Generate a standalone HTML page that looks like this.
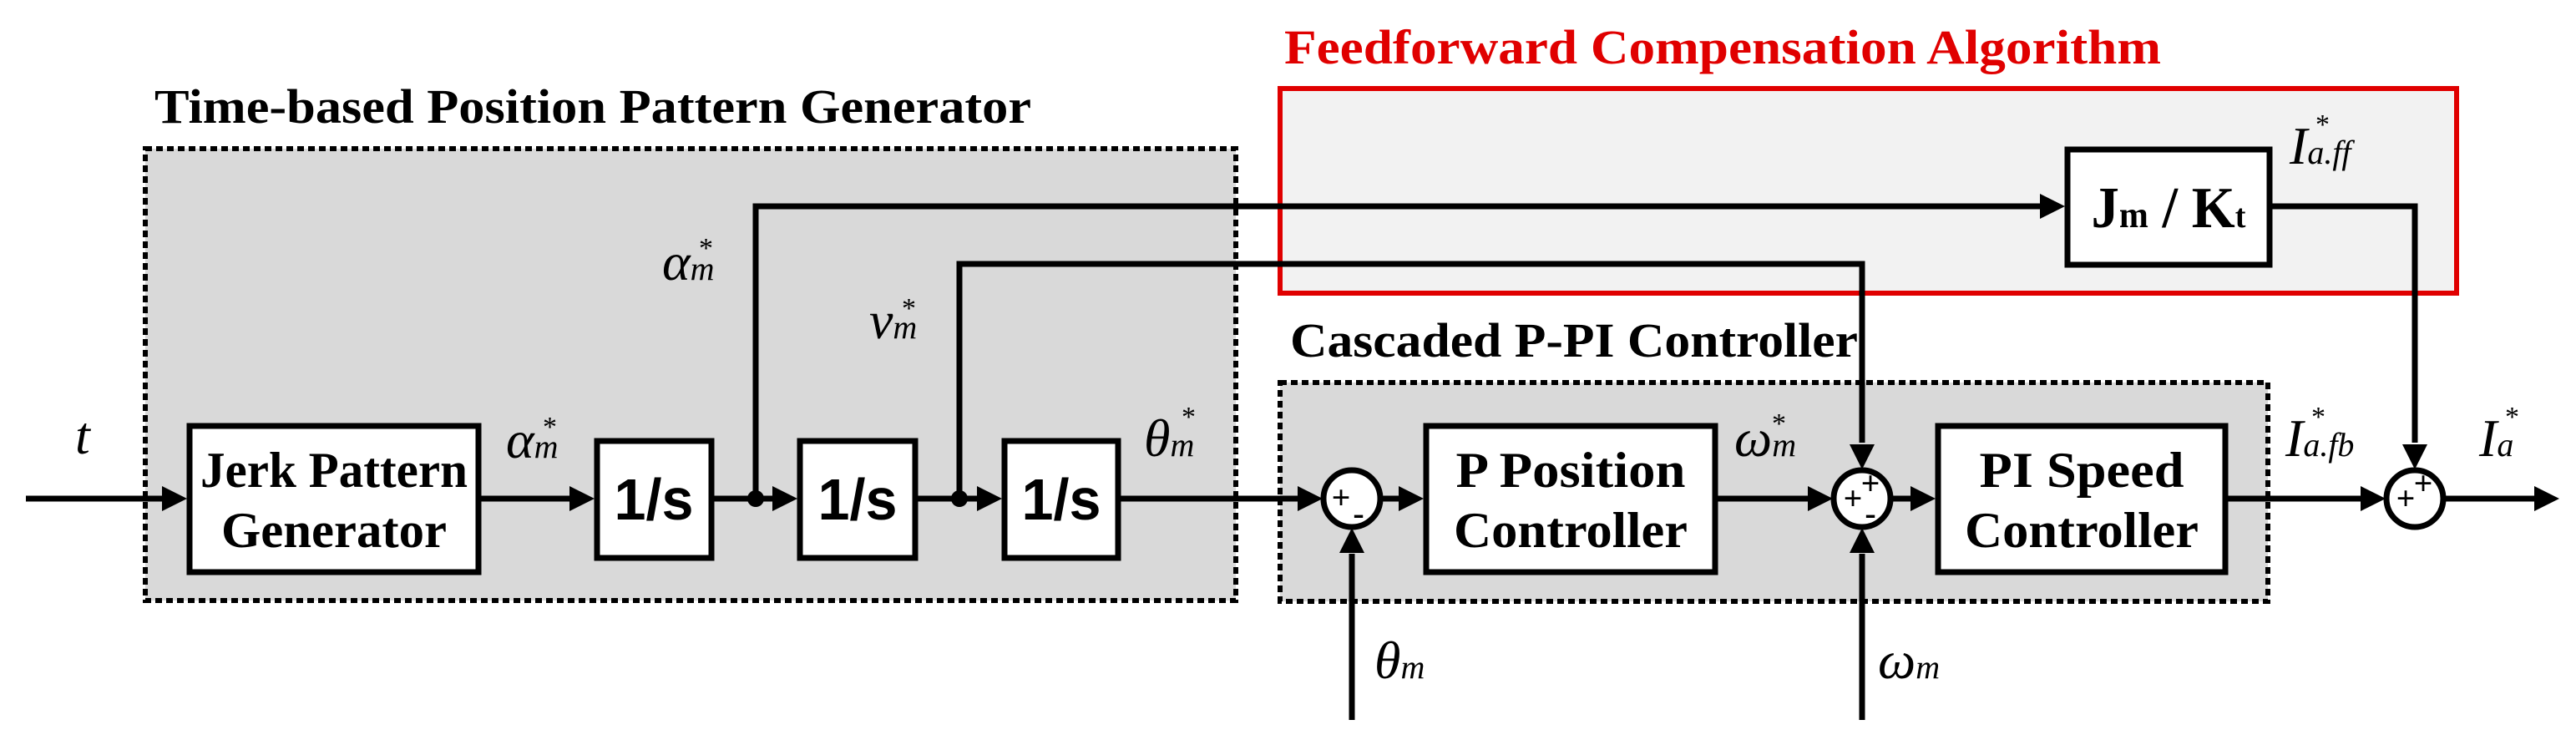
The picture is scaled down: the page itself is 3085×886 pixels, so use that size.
<!DOCTYPE html>
<html><head><meta charset="utf-8"><style>
html,body{margin:0;padding:0;background:#fff;}
svg{display:block;}
.t{font-family:"Liberation Serif",serif;font-weight:bold;}
.m{font-family:"Liberation Serif",serif;font-style:italic;}
</style></head><body>
<svg width="3085" height="886" viewBox="0 0 3085 886" xmlns="http://www.w3.org/2000/svg">
<!-- group boxes -->
<rect x="174" y="178" width="1306" height="541" fill="#d9d9d9" stroke="#000" stroke-width="6" stroke-dasharray="8 5"/>
<rect x="1533" y="106" width="1409" height="245" fill="#f2f2f2" stroke="#e00000" stroke-width="6"/>
<rect x="1533" y="458" width="1183" height="262" fill="#d9d9d9" stroke="#000" stroke-width="6" stroke-dasharray="8 5"/>
<!-- titles -->
<text x="185" y="147" class="t" font-size="58" textLength="1050" lengthAdjust="spacingAndGlyphs">Time-based Position Pattern Generator</text>
<text x="1538" y="76" class="t" font-size="58" fill="#e00000" textLength="1050" lengthAdjust="spacingAndGlyphs">Feedforward Compensation Algorithm</text>
<text x="1545" y="427" class="t" font-size="58" textLength="680" lengthAdjust="spacingAndGlyphs">Cascaded P-PI Controller</text>
<!-- lines -->
<g stroke="#000" stroke-width="7" fill="none">
<line x1="31" y1="597" x2="196" y2="597"/>
<line x1="573" y1="597" x2="684" y2="597"/>
<line x1="852" y1="597" x2="927" y2="597"/>
<line x1="1096" y1="597" x2="1172" y2="597"/>
<line x1="1339" y1="597" x2="1556" y2="597"/>
<line x1="1655" y1="597" x2="1677" y2="597"/>
<line x1="2054" y1="597" x2="2166" y2="597"/>
<line x1="2266" y1="597" x2="2290" y2="597"/>
<line x1="2665" y1="597" x2="2828" y2="597"/>
<line x1="2928" y1="597" x2="3035" y2="597"/>
<polyline points="905,597 905,247 2443,247"/>
<polyline points="1149,597 1149,316 2230,316 2230,530"/>
<polyline points="2718,247 2892,247 2892,530"/>
<line x1="1619" y1="862" x2="1619" y2="663"/>
<line x1="2230" y1="862" x2="2230" y2="663"/>
</g>
<!-- arrowheads -->
<g fill="#000">
<polygon points="224,597 194,582 194,612"/>
<polygon points="712,597 682,582 682,612"/>
<polygon points="955,597 925,582 925,612"/>
<polygon points="1200,597 1170,582 1170,612"/>
<polygon points="1584,597 1554,582 1554,612"/>
<polygon points="1705,597 1675,582 1675,612"/>
<polygon points="2195,597 2165,582 2165,612"/>
<polygon points="2318,597 2288,582 2288,612"/>
<polygon points="2857,597 2827,582 2827,612"/>
<polygon points="3065,597 3035,582 3035,612"/>
<polygon points="2473,247 2443,232 2443,262"/>
<polygon points="2230,562 2215,532 2245,532"/>
<polygon points="2892,562 2877,532 2907,532"/>
<polygon points="1619,632 1604,662 1634,662"/>
<polygon points="2230,632 2215,662 2245,662"/>
<circle cx="905" cy="597" r="10"/>
<circle cx="1149" cy="597" r="10"/>
</g>
<!-- blocks -->
<g stroke="#000" stroke-width="7" fill="#fff">
<rect x="227" y="510" width="346" height="175"/>
<rect x="715" y="528" width="137" height="140"/>
<rect x="958" y="528" width="138" height="140"/>
<rect x="1203" y="528" width="136" height="140"/>
<rect x="2476" y="179" width="242" height="138"/>
<rect x="1708" y="510" width="346" height="175"/>
<rect x="2321" y="510" width="344" height="175"/>
<circle cx="1619" cy="597" r="34"/>
<circle cx="2230" cy="597" r="34"/>
<circle cx="2892" cy="597" r="34"/>
</g>
<!-- block text -->
<g class="t" font-size="60" text-anchor="middle" font-weight="bold">
<text x="400" y="583" textLength="320" lengthAdjust="spacingAndGlyphs">Jerk Pattern</text>
<text x="400" y="655" textLength="270" lengthAdjust="spacingAndGlyphs">Generator</text>
<text x="783" y="622" font-size="70" font-family="Liberation Sans" textLength="95" lengthAdjust="spacingAndGlyphs">1/s</text>
<text x="1027" y="622" font-size="70" font-family="Liberation Sans" textLength="95" lengthAdjust="spacingAndGlyphs">1/s</text>
<text x="1271" y="622" font-size="70" font-family="Liberation Sans" textLength="95" lengthAdjust="spacingAndGlyphs">1/s</text>
<text x="1881" y="583" textLength="275" lengthAdjust="spacingAndGlyphs">P Position</text>
<text x="1881" y="655" textLength="280" lengthAdjust="spacingAndGlyphs">Controller</text>
<text x="2493" y="583" textLength="245" lengthAdjust="spacingAndGlyphs">PI Speed</text>
<text x="2493" y="655" textLength="280" lengthAdjust="spacingAndGlyphs">Controller</text>
<text x="2597" y="272" font-size="70" textLength="185" lengthAdjust="spacingAndGlyphs">J<tspan font-size="44">m</tspan> / K<tspan font-size="40">t</tspan></text>
</g>
<!-- signs -->
<g class="t" font-size="40" text-anchor="middle">
<text x="1606" y="609">+</text><text x="1627" y="628">-</text>
<text x="2240" y="592">+</text><text x="2219" y="610">+</text><text x="2240" y="628">-</text>
<text x="2902" y="592">+</text><text x="2881" y="610">+</text>
</g>
<!-- math labels -->
<g class="m" font-size="64">
<text x="90" y="543">t</text>
<text x="606" y="548">α<tspan font-size="40">m</tspan></text><text x="650" y="522" font-size="34" font-style="normal">*</text>
<text x="793" y="335">α<tspan font-size="40">m</tspan></text><text x="837" y="308" font-size="34" font-style="normal">*</text>
<text x="1041" y="405">v<tspan font-size="40">m</tspan></text><text x="1080" y="380" font-size="34" font-style="normal">*</text>
<text x="1370" y="546">θ<tspan font-size="40">m</tspan></text><text x="1415" y="510" font-size="34" font-style="normal">*</text>
<text x="2077" y="546">ω<tspan font-size="40">m</tspan></text><text x="2122" y="518" font-size="34" font-style="normal">*</text>
<text x="2737" y="546">I<tspan font-size="40">a.fb</tspan></text><text x="2768" y="510" font-size="34" font-style="normal">*</text>
<text x="2742" y="196">I<tspan font-size="40">a.ff</tspan></text><text x="2773" y="160" font-size="34" font-style="normal">*</text>
<text x="2969" y="546">I<tspan font-size="40">a</tspan></text><text x="3000" y="510" font-size="34" font-style="normal">*</text>
<text x="1646" y="812">θ<tspan font-size="40">m</tspan></text>
<text x="2249" y="812">ω<tspan font-size="40">m</tspan></text>
</g>
</svg>
</body></html>
